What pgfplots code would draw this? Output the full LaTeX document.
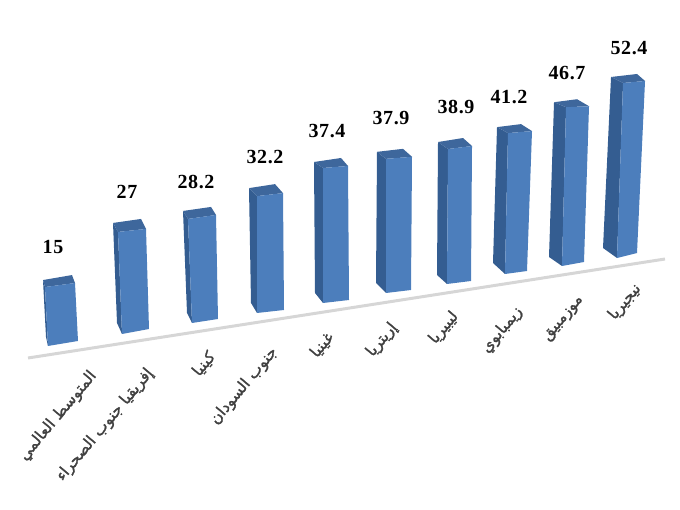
\documentclass[border=0pt]{standalone}
\usepackage{fontspec}
\usepackage{pgfplots}
\usepackage{pgfplotstable}
\pgfplotsset{compat=1.18}
\setmainfont{Liberation Serif}
\newfontfamily\numfont[Ligatures=TeX,LetterSpace=3]{Liberation Serif Bold}
\newfontfamily\arabicfont[Script=Arabic,FakeBold=1.5]{DejaVu Sans}
\TeXXeTstate=1
\definecolor{frontc}{RGB}{76,126,188}
\definecolor{sidec}{RGB}{52,93,145}
\definecolor{topc}{RGB}{62,103,156}
\definecolor{basec}{RGB}{214,214,214}
\definecolor{labc}{RGB}{64,64,64}
% v: value; flx fly frx fry: front base corners (image px); ux uy: px per unit of value;
% twx twy: top width; dx dy / bx by: depth at top / at base; rx ry: depth at top right
\pgfplotstableread{
v    flx fly frx fry ux     uy   twx twy dx  dy  bx  by  rx  ry
15   48  346 78  341 -0.200 3.93 30  -4  -2  -7  -2  -9  -3  -8
27   122 334 149 329 -0.148 3.78 28  -3  -5  -9  -5  -11 -5  -10
28.2 192 323 218 319 -0.142 3.69 28  -4  -5  -8  -5  -10 -5  -8
32.2 257 313 284 310 0.000  3.63 26  -3  -8  -8  -6  -10 -8  -9
37.4 323 303 349 300 0.000  3.61 25  -2  -9  -6  -8  -10 -7  -8
37.9 386 293 411 290 0.000  3.54 26  -2  -9  -7  -10 -10 -9  -8
38.9 447 284 471 281 0.026  3.47 24  -3  -10 -7  -10 -9  -9  -8
41.2 505 274 527 271 0.073  3.42 24  -2  -11 -6  -12 -11 -11 -7
46.7 562 266 584 262 0.086  3.40 23  -1  -12 -5  -13 -9  -12 -7
52.4 617 258 637 253 0.115  3.34 22  -2  -12 -6  -14 -10 -8  -7
}\bars
\newcommand\get[2]{\pgfplotstablegetelem{\i}{#2}\of\bars\let#1\pgfplotsretval}
\newcommand\num[1]{\node[font=\numfont\fontsize{20}{24}\selectfont,inner sep=0pt,text=black] at #1;}
\begin{document}
\begin{tikzpicture}
\begin{axis}[
  scale only axis, width=680pt, height=510pt,
  xmin=0, xmax=680, ymin=0, ymax=510, y dir=reverse,
  hide axis, clip=false, no markers,
]
\path (axis cs:0,0) rectangle (axis cs:680,510);
\addplot[basec, line width=3pt] coordinates {(28,358) (665,259)};
\pgfplotsforeachungrouped \i in {0,...,9}{
  \get\v{v}\get\flx{flx}\get\fly{fly}\get\frx{frx}\get\fry{fry}
  \get\ux{ux}\get\uy{uy}\get\twx{twx}\get\twy{twy}
  \get\dx{dx}\get\dy{dy}\get\bx{bx}\get\by{by}\get\rx{rx}\get\ry{ry}
  \pgfmathsetmacro\tlx{\flx+\v*\ux}
  \pgfmathsetmacro\tly{\fly-\v*\uy}
  \pgfmathsetmacro\trx{\tlx+\twx}
  \pgfmathsetmacro\try{\tly+\twy}
  \pgfmathsetmacro\blx{\tlx+\dx}
  \pgfmathsetmacro\bly{\tly+\dy}
  \pgfmathsetmacro\brx{\trx+\rx}
  \pgfmathsetmacro\bry{\try+\ry}
  \pgfmathsetmacro\sbx{\flx+\bx}
  \pgfmathsetmacro\sby{\fly+\by}
  \addplot[fill=sidec, draw=none] coordinates {(\flx,\fly) (\tlx,\tly) (\blx,\bly) (\sbx,\sby)} --cycle;
  \addplot[fill=topc, draw=none] coordinates {(\tlx,\tly) (\trx,\try) (\brx,\bry) (\blx,\bly)} --cycle;
  \addplot[fill=frontc, draw=none] coordinates {(\flx,\fly) (\frx,\fry) (\trx,\try) (\tlx,\tly)} --cycle;
}
\num{(axis cs:53,247) {15}}
\num{(axis cs:127,192) {27}}
\num{(axis cs:196,182) {28.2}}
\num{(axis cs:265,157) {32.2}}
\num{(axis cs:327,131) {37.4}}
\num{(axis cs:391,118) {37.9}}
\num{(axis cs:456,107) {38.9}}
\num{(axis cs:509,97) {41.2}}
\num{(axis cs:567,73) {46.7}}
\num{(axis cs:629,48) {52.4}}
\tikzset{al/.style={font=\arabicfont\fontsize{15.5}{17}\selectfont, rotate=50, inner sep=0pt, text=labc}}
\node[al] at (axis cs:58,416) {\beginR المتوسط العالمي\endR};
\node[al] at (axis cs:105,425) {\beginR إفريقيا جنوب الصحراء\endR};
\node[al] at (axis cs:204,364) {\beginR كينيا\endR};
\node[al] at (axis cs:244,386) {\beginR جنوب السودان\endR};
\node[al] at (axis cs:322,345) {\beginR غينيا\endR};
\node[al] at (axis cs:382,340) {\beginR إريتريا\endR};
\node[al] at (axis cs:444,328) {\beginR ليبيريا\endR};
\node[al] at (axis cs:502,330) {\beginR زيمبابوي\endR};
\node[al] at (axis cs:564,319) {\beginR موزمبيق\endR};
\node[al] at (axis cs:625,302) {\beginR نيجيريا\endR};
\end{axis}
\end{tikzpicture}
\end{document}
